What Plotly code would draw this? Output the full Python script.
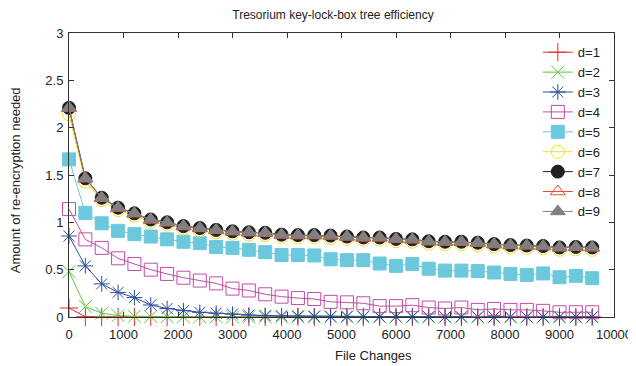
import plotly.graph_objects as go

file_changes = [0, 300, 600, 900, 1200, 1500, 1800, 2100, 2400, 2700, 3000,
                3300, 3600, 3900, 4200, 4500, 4800, 5100, 5400, 5700, 6000,
                6300, 6600, 6900, 7200, 7500, 7800, 8100, 8400, 8700, 9000,
                9300, 9600]

x_ticks = [0, 1000, 2000, 3000, 4000, 5000, 6000, 7000, 8000, 9000, 10000]
x_tick_labels = ["0", "1000", "2000", "3000", "4000", "5000", "6000", "7000",
                 "8000", "9000", "10000"]
y_ticks = [0, 0.5, 1, 1.5, 2, 2.5, 3]
y_tick_labels = ["0", "0.5", "1", "1.5", "2", "2.5", "3"]

d1 = [0.095, 0.003, 0.0, 0.0, 0.0, 0.0, 0.0, 0.0, 0.0, 0.0, 0.0,
      0.0, 0.0, 0.0, 0.0, 0.0, 0.0, 0.0, 0.0, 0.0, 0.0,
      0.0, 0.0, 0.0, 0.0, 0.0, 0.0, 0.0, 0.0, 0.0, 0.0, 0.0, 0.0]
d2 = [0.48, 0.11, 0.04, 0.015, 0.008, 0.005, 0.003, 0.002, 0.001, 0.001, 0.0,
      0.0, 0.0, 0.0, 0.0, 0.0, 0.0, 0.0, 0.0, 0.0, 0.0,
      0.0, 0.0, 0.0, 0.0, 0.0, 0.0, 0.0, 0.0, 0.0, 0.0, 0.0, 0.0]
d3 = [0.855, 0.54, 0.35, 0.26, 0.205, 0.127, 0.09, 0.067, 0.05, 0.04, 0.03,
      0.02, 0.015, 0.012, 0.01, 0.008, 0.007, 0.006, 0.005, 0.004, 0.004,
      0.003, 0.003, 0.002, 0.002, 0.002, 0.001, 0.001, 0.001, 0.001, 0.001,
      0.0, 0.0]
d4 = [1.14, 0.82, 0.73, 0.62, 0.56, 0.50, 0.455, 0.415, 0.385, 0.355, 0.30,
      0.28, 0.24, 0.215, 0.20, 0.19, 0.16, 0.155, 0.145, 0.115, 0.115,
      0.125, 0.10, 0.09, 0.10, 0.075, 0.085, 0.075, 0.075, 0.065, 0.05,
      0.05, 0.05]
d5 = [1.665, 1.10, 0.99, 0.91, 0.875, 0.85, 0.82, 0.795, 0.78, 0.74, 0.73,
      0.71, 0.685, 0.655, 0.655, 0.65, 0.61, 0.60, 0.60, 0.565, 0.54,
      0.56, 0.51, 0.49, 0.49, 0.485, 0.47, 0.455, 0.445, 0.46, 0.42,
      0.435, 0.41]
d6 = [2.14, 1.43, 1.235, 1.13, 1.07, 1.005, 0.975, 0.935, 0.915, 0.895, 0.88,
      0.87, 0.865, 0.845, 0.84, 0.84, 0.835, 0.825, 0.815, 0.815, 0.80,
      0.795, 0.775, 0.77, 0.77, 0.76, 0.745, 0.735, 0.73, 0.725, 0.71,
      0.715, 0.71]
d7 = [2.21, 1.465, 1.26, 1.155, 1.095, 1.03, 1.0, 0.96, 0.94, 0.92, 0.905,
      0.895, 0.89, 0.87, 0.865, 0.865, 0.86, 0.85, 0.84, 0.84, 0.825,
      0.82, 0.80, 0.795, 0.795, 0.785, 0.77, 0.76, 0.755, 0.75, 0.735,
      0.74, 0.735]
d8 = [2.205, 1.46, 1.255, 1.15, 1.09, 1.025, 0.995, 0.955, 0.935, 0.915, 0.90,
      0.89, 0.885, 0.865, 0.86, 0.86, 0.855, 0.845, 0.835, 0.835, 0.82,
      0.815, 0.795, 0.79, 0.79, 0.78, 0.765, 0.755, 0.75, 0.745, 0.73,
      0.735, 0.73]
d9 = [2.21, 1.465, 1.26, 1.155, 1.095, 1.03, 1.0, 0.96, 0.94, 0.92, 0.905,
      0.895, 0.89, 0.87, 0.865, 0.865, 0.86, 0.85, 0.84, 0.84, 0.825,
      0.82, 0.80, 0.795, 0.795, 0.785, 0.77, 0.76, 0.755, 0.75, 0.735,
      0.74, 0.735]

series_names = ["d=1", "d=2", "d=3", "d=4", "d=5", "d=6", "d=7", "d=8", "d=9"]
series_values = [d1, d2, d3, d4, d5, d6, d7, d8, d9]
colors = ["#e8282a", "#5cc83c", "#2c4ea0", "#c04ca8", "#6cc8dc",
          "#f0e020", "#202020", "#f04830", "#808080"]
symbols = ["cross-thin-open", "x-thin-open", "asterisk-open", "square-open",
           "square", "circle-open", "circle", "triangle-up-open", "triangle-up"]
sizes = [13, 13, 13, 13, 13, 13, 13, 13, 13]

FONT = "Liberation Sans, Arial, Helvetica, sans-serif"
TXT = "#222222"

fig = go.Figure()
for name, vals, col, sym, sz in zip(series_names, series_values, colors, symbols, sizes):
    fig.add_trace(go.Scatter(
        x=file_changes, y=vals, name=name, mode="lines+markers",
        line=dict(color=col, width=1),
        marker=dict(symbol=sym, size=sz, color=col,
                    line=dict(color=col, width=1)),
        cliponaxis=False,
    ))

axis_common = dict(showline=True, linecolor="#333333", linewidth=1,
                   mirror="ticks", ticks="inside", ticklen=5,
                   tickcolor="#333333", showgrid=False, zeroline=False,
                   automargin=False,
                   tickfont=dict(family=FONT, size=13, color=TXT))

fig.update_layout(
    template="none",
    width=628, height=358,
    margin=dict(l=61, r=22, t=25, b=49),
    paper_bgcolor="white", plot_bgcolor="white",
    font=dict(family=FONT, size=13, color=TXT),
    title=dict(text="Tresorium key-lock-box tree efficiency",
               x=0.5175, xanchor="center", xref="container",
               y=0.993, yanchor="top",
               font=dict(family=FONT, size=12, color=TXT)),
    xaxis=dict(range=[0, 10000], tickvals=x_ticks, ticktext=x_tick_labels,
               ticklabelstandoff=5, **axis_common),
    yaxis=dict(range=[0, 3], tickvals=y_ticks, ticktext=y_tick_labels,
               ticklabelstandoff=2, **axis_common),
    legend=dict(x=0.985, xanchor="right", y=0.985, yanchor="top",
                bgcolor="rgba(0,0,0,0)", borderwidth=0,
                font=dict(family=FONT, size=13, color=TXT)),
    showlegend=True,
    annotations=[
        dict(text="File Changes", xref="paper", yref="paper",
             x=0.558, y=-0.136, xanchor="center", yanchor="middle",
             showarrow=False, font=dict(family=FONT, size=13, color=TXT)),
        dict(text="Amount of re-encryption needed", xref="paper", yref="paper",
             x=-0.099, y=0.482, xanchor="center", yanchor="middle",
             textangle=-90, showarrow=False,
             font=dict(family=FONT, size=13, color=TXT)),
    ],
)

fig.write_html("out.html")
